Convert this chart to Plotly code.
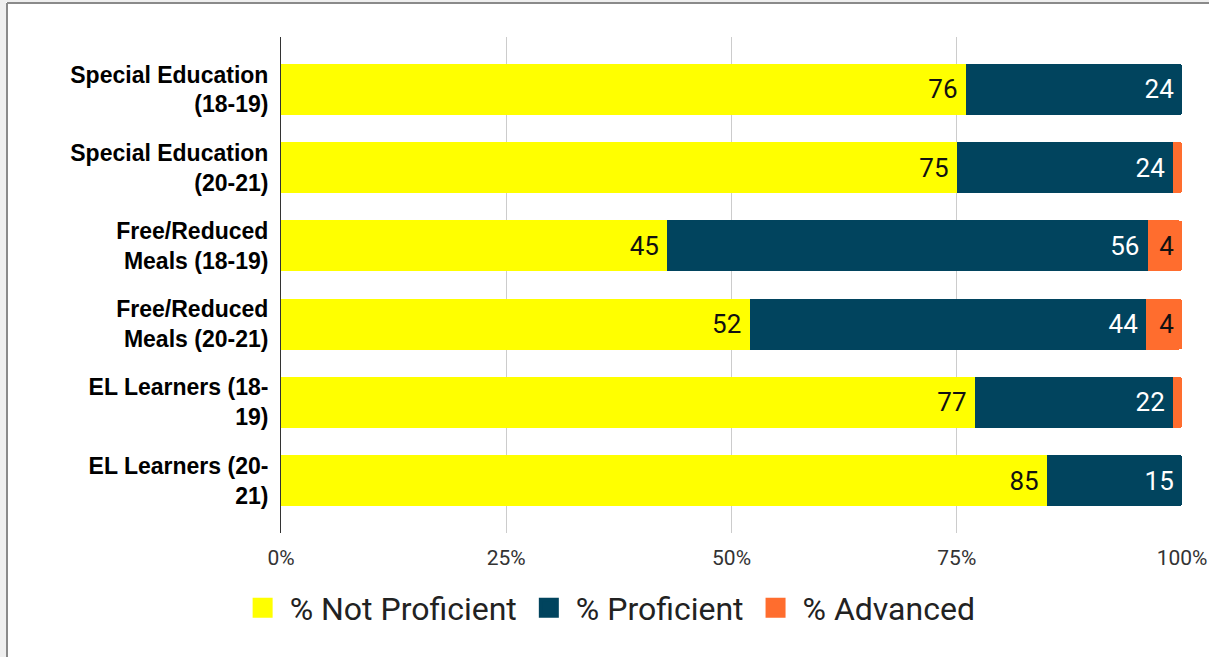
import plotly.graph_objects as go

categories = [
    "Special Education<br>(18-19)",
    "Special Education<br>(20-21)",
    "Free/Reduced<br>Meals (18-19)",
    "Free/Reduced<br>Meals (20-21)",
    "EL Learners (18-<br>19)",
    "EL Learners (20-<br>21)",
]
not_proficient = [76, 75, 45, 52, 77, 85]
proficient = [24, 24, 56, 44, 22, 15]
advanced = [0, 1, 4, 4, 1, 0]
series_names = ["% Not Proficient", "% Proficient", "% Advanced"]
x_ticks = [0, 25, 50, 75, 100]
x_tick_labels = ["0%", "25%", "50%", "75%", "100%"]

colors = ["#ffff00", "#01445e", "#ff6d2e"]
label_colors = ["#111111", "#ffffff", "#111111"]

W, H = 1209, 657
L, R, T, B = 281, 1183, 37, 533


def px_x(p):
    return (p - L) / (R - L)


def px_y(p):
    return (B - p) / (B - T)


fig = go.Figure()
for name, vals, col, lcol in zip(series_names, [not_proficient, proficient, advanced], colors, label_colors):
    fig.add_trace(go.Bar(
        y=categories, x=vals, orientation="h", name=name,
        marker=dict(color=col, line=dict(width=0)),
        text=[f"{v}\u2009" if v >= 2 else "" for v in vals],
        textposition="inside", insidetextanchor="end", textangle=0,
        insidetextfont=dict(family="Roboto", size=26, color=lcol),
        showlegend=False, hoverinfo="skip",
    ))
    fig.add_trace(go.Scatter(
        x=[None], y=[None], mode="markers", name=name,
        marker=dict(symbol="square", size=16, color=col, line=dict(color=col, width=4)),
        showlegend=True,
    ))

shapes = [
    dict(type="rect", xref="paper", yref="paper", x0=px_x(-5), x1=px_x(6), y0=px_y(H + 5), y1=px_y(-5),
         fillcolor="#efefef", line=dict(width=0), layer="below"),
    dict(type="rect", xref="paper", yref="paper", x0=px_x(-5), x1=px_x(W + 5), y0=px_y(2), y1=px_y(-5),
         fillcolor="#efefef", line=dict(width=0), layer="below"),
    dict(type="line", xref="paper", yref="paper", x0=px_x(7), x1=px_x(7), y0=px_y(H + 5), y1=px_y(3),
         line=dict(color="#8a8a8a", width=2)),
    dict(type="line", xref="paper", yref="paper", x0=px_x(7), x1=px_x(W + 5), y0=px_y(3), y1=px_y(3),
         line=dict(color="#8a8a8a", width=2)),
]

fig.update_layout(
    width=W, height=H,
    margin=dict(l=L, r=W - R, t=T, b=H - B, autoexpand=False),
    paper_bgcolor="white", plot_bgcolor="white",
    barmode="stack", barnorm="percent", bargap=0.35,
    barcornerradius=3,
    shapes=shapes,
    showlegend=True,
    legend=dict(
        orientation="h", xref="container", yref="container", traceorder="normal",
        x=0.503, xanchor="center", y=(H - 608) / H, yanchor="middle",
        font=dict(family="Roboto", size=32, color="#222222"),
        itemwidth=44, tracegroupgap=0,
    ),
    xaxis=dict(
        range=[0, 100.1], tickvals=x_ticks, ticktext=x_tick_labels,
        showgrid=True, gridcolor="#cccccc", gridwidth=1, zeroline=False,
        showline=False, ticks="", ticklabelstandoff=10, automargin=False,
        tickfont=dict(family="Roboto", size=21, color="#333333"),
        fixedrange=True,
    ),
    yaxis=dict(
        range=[5.67, -0.67], showline=True, linecolor="#333333", linewidth=1,
        ticks="", ticklabelstandoff=7, automargin=False,
        tickfont=dict(family="Liberation Sans", size=23, color="#000000", weight="bold"),
        showgrid=False, fixedrange=True,
    ),
    font=dict(family="Roboto"),
)

fig.write_html(
    "out.html",
    config={"displayModeBar": False},
    post_script="document.body.style.margin='0';document.body.style.overflow='hidden';",
)
